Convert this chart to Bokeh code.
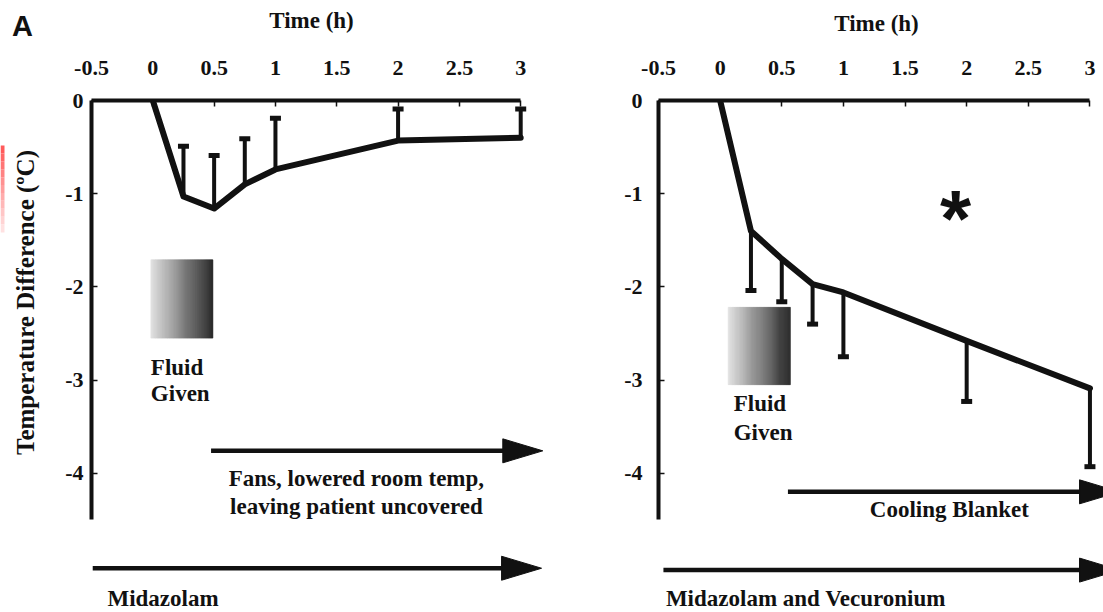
import numpy as np
from bokeh.plotting import figure
from bokeh.layouts import row, column
from bokeh.models import Range1d, FixedTicker
from bokeh.core.properties import value
from bokeh.embed import file_html
from bokeh.resources import INLINE

# ---------------- data ----------------
x_ticks = [-0.5, 0, 0.5, 1, 1.5, 2, 2.5, 3]
x_tick_labels = ["-0.5", "0", "0.5", "1", "1.5", "2", "2.5", "3"]
y_ticks = [0, -1, -2, -3, -4]
y_tick_labels = ["0", "-1", "-2", "-3", "-4"]

# Panel 1: Midazolam + fans etc.
t1 = [0, 0.25, 0.5, 0.75, 1.0, 2.0, 3.0]
mean1 = [0, -1.03, -1.16, -0.90, -0.74, -0.43, -0.40]
err_t1 = [0.25, 0.5, 0.75, 1.0, 2.0, 3.0]
err_mean1 = [-1.03, -1.16, -0.90, -0.74, -0.43, -0.40]
err_end1 = [-0.49, -0.59, -0.41, -0.19, -0.09, -0.09]

# Panel 2: Midazolam and Vecuronium + cooling blanket
t2 = [0, 0.25, 0.5, 0.75, 1.0, 2.0, 3.0]
mean2 = [0, -1.40, -1.70, -1.97, -2.06, -2.58, -3.09]
err_t2 = [0.25, 0.5, 0.75, 1.0, 2.0, 3.0]
err_mean2 = [-1.40, -1.70, -1.97, -2.06, -2.58, -3.09]
err_end2 = [-2.04, -2.16, -2.40, -2.75, -3.23, -3.93]

# Fluid given boxes (t0, t1, v_top, v_bottom)
fluid1 = [-0.016, 0.49, -1.71, -2.55]
fluid2 = [0.065, 0.57, -2.22, -3.05]

# Treatment arrows (start, end) in hours
fans_arrow = [0.475, 3.18]
midaz_arrow = [-0.49, 3.17]
cool_arrow = [0.55, 3.24]
midvec_arrow = [-0.46, 3.24]

panel_label = "A"
x_title = "Time (h)"
y_title = "Temperature Difference (ºC)"

SERIF = value("Liberation Serif")
INK = "#111111"
PAGE_H = 612
HEAD_H = 46
SIDE_W = 45
FRAME_TOP = 100           # page y of the top axis line (both panels)
BT = FRAME_TOP - HEAD_H   # top border inside the lower row
FRAME_H = PAGE_H - FRAME_TOP
Y_START = -5.495


def blank_fig(w, h, top=0):
    f = figure(width=w, height=h, output_backend="svg", toolbar_location=None,
               x_range=Range1d(0, w), y_range=Range1d(0, h - top),
               x_axis_type=None, y_axis_type=None, min_border=0, min_border_top=top)
    f.grid.visible = False
    f.outline_line_color = None
    f.border_fill_color = "white"
    return f


def make_panel(width, border_left, border_right, x_end, label_standoff_y):
    p = figure(width=width, height=PAGE_H - HEAD_H, output_backend="svg", toolbar_location=None,
               x_range=Range1d(-0.5, x_end), y_range=Range1d(Y_START, 0),
               x_axis_location="above", y_axis_location="left",
               min_border_left=border_left, min_border_right=border_right,
               min_border_top=BT, min_border_bottom=0)
    p.grid.visible = False
    p.outline_line_color = None
    p.border_fill_color = "white"
    xa = p.xaxis[0]
    xa.ticker = FixedTicker(ticks=x_ticks)
    xa.major_label_overrides = {k: v for k, v in zip(x_ticks, x_tick_labels)}
    xa.bounds = (-0.5, 3)
    xa.axis_line_width = 4
    xa.axis_line_color = INK
    xa.major_tick_in = 6
    xa.major_tick_out = 0
    xa.major_tick_line_width = 1.5
    xa.major_tick_line_color = INK
    xa.minor_tick_line_color = None
    xa.major_label_text_font = "Liberation Serif"
    xa.major_label_text_font_style = "bold"
    xa.major_label_text_font_size = "22px"
    xa.major_label_text_color = INK
    xa.major_label_standoff = 26

    ya = p.yaxis[0]
    ya.ticker = FixedTicker(ticks=y_ticks)
    ya.major_label_overrides = {k: v for k, v in zip(y_ticks, y_tick_labels)}
    ya.bounds = (-4.5, 0)
    ya.axis_line_width = 4
    ya.axis_line_color = INK
    ya.major_tick_in = 6
    ya.major_tick_out = 0
    ya.major_tick_line_width = 1.5
    ya.major_tick_line_color = INK
    ya.minor_tick_line_color = None
    ya.major_label_text_font = "Liberation Serif"
    ya.major_label_text_font_style = "bold"
    ya.major_label_text_font_size = "22px"
    ya.major_label_text_color = INK
    ya.major_label_standoff = label_standoff_y
    return p


def draw_series(p, t, mean, et, em, ee):
    p.segment(x0=et, y0=em, x1=et, y1=ee, line_width=4, line_color=INK)
    p.rect(x=et, y=ee, width=11, height=5, width_units="screen", height_units="screen",
           fill_color=INK, line_color=None)
    p.line(t, mean, line_width=6, line_color=INK, line_join="round", line_cap="round")


def draw_fluid(p, box):
    x0, x1, ytop, ybot = box
    n = 60
    edges = np.linspace(x0, x1, n + 1)
    shades = np.linspace(226, 38, n).astype(int)
    colors = ["#%02x%02x%02x" % (s, s, s) for s in shades]
    p.quad(left=edges[:-1], right=edges[1:], top=ytop, bottom=ybot,
           fill_color=colors, line_color=colors, line_width=0.6)


def draw_arrow(p, span, y, pxh, pxv, head_len=40, head_half=12, lw=4.5):
    start, tip = span
    base = tip - head_len / pxh
    p.line([start, base + 1.0 / pxh], [y, y], line_width=lw, line_color=INK)
    hh = head_half / pxv
    p.patch([base, tip, base], [y + hh, y, y - hh], fill_color=INK, line_color=INK, line_width=1)


def txt(p, x, y, s, align="left", size="23px", font=SERIF, angle=0.0):
    p.text(x=[x], y=[y], text=[s], text_font=font, text_font_style="bold",
           text_font_size=size, text_color=INK, text_align=align, text_baseline="middle",
           angle=angle)


# ---------------- header strip (panel letter, time titles) ----------------
head = blank_fig(1103, HEAD_H)
txt(head, 22, HEAD_H - 25, panel_label, align="center", size="29px", font=value("Liberation Sans"))
txt(head, 311, HEAD_H - 20, x_title, align="center", size="23px")
txt(head, 876, HEAD_H - 23, x_title, align="center", size="23px")

# ---------------- side strip (y title); its frame is aligned with the panels ----------------
side = blank_fig(SIDE_W, PAGE_H - HEAD_H, top=BT)
mark_y = np.linspace(145, 232, 12)
mark_c = ["#%02x%02x%02x" % (255, int(g), int(g)) for g in np.linspace(90, 225, 11)]
side.quad(left=0, right=4, top=PAGE_H - mark_y[:-1], bottom=PAGE_H - mark_y[1:],
          fill_color=mark_c, line_color=None)
txt(side, 25, PAGE_H - 302, y_title, align="center", size="25px", angle=np.pi / 2)

# ---------------- left panel ----------------
W1, BL1, BR1 = 560 - SIDE_W, 91 - SIDE_W, 3
XE1 = 3.3
p1 = make_panel(W1, BL1, BR1, XE1, 8)
pxh1 = (W1 - BL1 - BR1) / (XE1 + 0.5)
pxv1 = FRAME_H / (-Y_START)

draw_fluid(p1, fluid1)
txt(p1, fluid1[0], -2.87, "Fluid")
txt(p1, fluid1[0], -3.14, "Given")
draw_series(p1, t1, mean1, err_t1, err_mean1, err_end1)
draw_arrow(p1, fans_arrow, -3.76, pxh1, pxv1)
draw_arrow(p1, midaz_arrow, -5.02, pxh1, pxv1)
txt(p1, 1.66, -4.06, "Fans, lowered room temp,", align="center")
txt(p1, 1.66, -4.36, "leaving patient uncovered", align="center")
txt(p1, -0.37, -5.35, "Midazolam")

# ---------------- right panel ----------------
W2, BL2, BR2 = 543, 98, 0
XE2 = 3.11
p2 = make_panel(W2, BL2, BR2, XE2, 16)
pxh2 = (W2 - BL2 - BR2) / (XE2 + 0.5)
pxv2 = FRAME_H / (-Y_START)

draw_fluid(p2, fluid2)
txt(p2, 0.11, -3.25, "Fluid")
txt(p2, 0.11, -3.56, "Given")
draw_series(p2, t2, mean2, err_t2, err_mean2, err_end2)
draw_arrow(p2, cool_arrow, -4.20, pxh2, pxv2)
draw_arrow(p2, midvec_arrow, -5.04, pxh2, pxv2)
txt(p2, 1.86, -4.39, "Cooling Blanket", align="center")
txt(p2, -0.44, -5.35, "Midazolam and Vecuronium")
p2.text(x=[1.91], y=[-1.265], text=["*"], text_font=value("Liberation Sans"),
        text_font_style="bold", text_font_size="80px", text_color=INK,
        text_align="center", text_baseline="alphabetic")

layout = column(head, row(side, p1, p2))
open("out.html", "w").write(file_html(layout, INLINE))
